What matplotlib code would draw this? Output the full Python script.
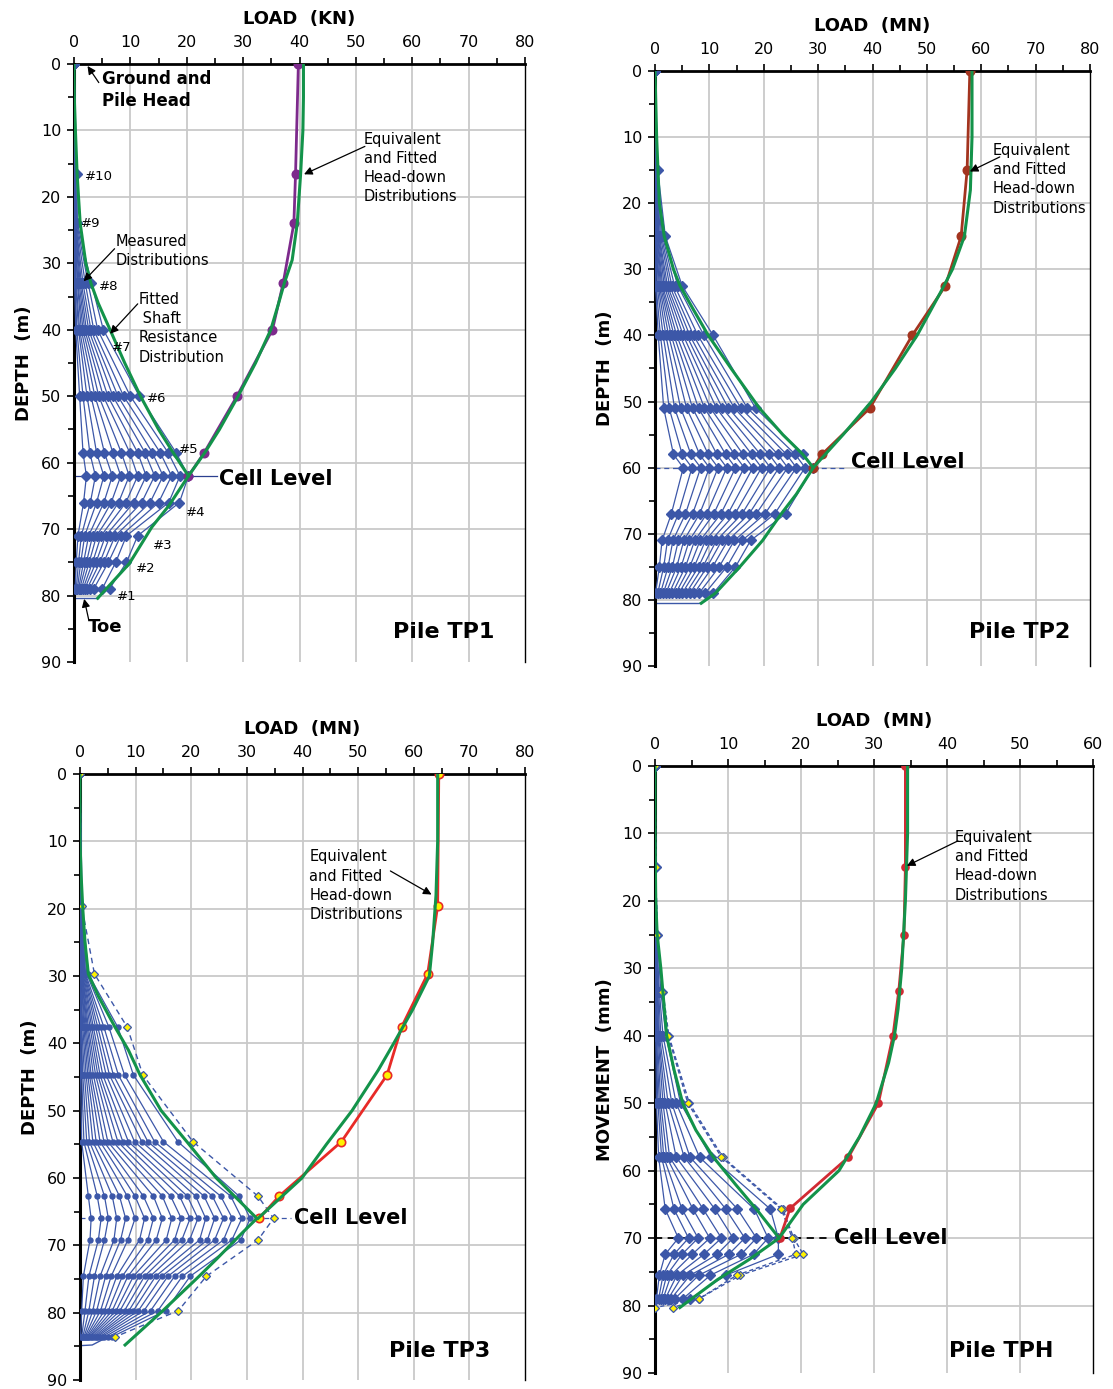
import matplotlib
matplotlib.use("Agg")
import matplotlib.pyplot as plt
from matplotlib.ticker import MultipleLocator

# ---------------- DATA ----------------
# ---- Pile TP1 ----
TP1_DEPTHS = [0, 16.5, 24, 33, 40, 50, 58.5, 62, 66, 71, 75, 79]
TP1_MEASURED = [
    [0, 0, 0, 0, 0, 0, 0, 0, 0, 0, 0, 0, 0],
    [0.0, 0.0, 0.0, 0.0, 0.0, 0.0, 0.1, 0.1, 0.1, 0.2, 0.2, 0.3, 0.5],
    [0.0, 0.0, 0.0, 0.1, 0.1, 0.1, 0.2, 0.2, 0.3, 0.3, 0.4, 0.5, 0.6],
    [0.1, 0.2, 0.3, 0.4, 0.6, 0.7, 0.9, 1.1, 1.3, 1.6, 2.0, 2.5, 3.1],
    [0.3, 0.5, 0.8, 1.0, 1.3, 1.6, 1.9, 2.2, 2.6, 3.0, 3.5, 4.2, 5.2],
    [1.0, 1.6, 2.3, 3.0, 3.7, 4.4, 5.2, 6.0, 6.9, 7.8, 8.8, 10.0, 11.6],
    [1.6, 2.8, 4.0, 5.4, 6.9, 8.4, 9.9, 11.3, 12.6, 13.9, 15.3, 16.7, 18.1],
    [2.2, 3.8, 5.3, 6.8, 8.3, 9.8, 11.3, 12.8, 14.3, 15.8, 17.3, 18.8, 20.3],
    [1.7, 2.9, 4.0, 5.3, 6.6, 7.9, 9.2, 10.6, 12.0, 13.5, 15.0, 16.8, 18.7],
    [0.7, 1.3, 1.9, 2.6, 3.3, 4.0, 4.8, 5.6, 6.4, 7.3, 8.3, 9.3, 11.3],
    [0.4, 0.8, 1.2, 1.7, 2.2, 2.7, 3.3, 3.9, 4.6, 5.3, 6.1, 7.4, 9.3],
    [0.2, 0.4, 0.6, 0.8, 1.0, 1.3, 1.6, 1.9, 2.3, 2.8, 3.5, 5.0, 6.3],
]
TP1_GAUGE_LABELS = ["#10", "#9", "#8", "#7", "#6", "#5", "#4", "#3", "#2", "#1"]
TP1_GAUGE_LABEL_X = [2.0, 1.2, 4.5, 6.8, 13.0, 18.6, 19.8, 14.0, 11.0, 7.6]
TP1_GAUGE_LABEL_D = [17.0, 24.0, 33.5, 42.6, 50.3, 58.0, 67.5, 72.5, 76.0, 80.2]
TP1_FIT_SHAFT_D = [0, 5, 10, 16.5, 20, 24, 30, 33, 36, 40, 45, 50, 55, 58.5, 62, 66.5, 69.7, 75.2, 80.4]
TP1_FIT_SHAFT_L = [0, 0.05, 0.25, 0.55, 0.8, 1.1, 2.1, 3.0, 4.3, 6.4, 9.0, 11.8, 15.0, 17.6, 20.3, 16.8, 13.8, 9.8, 4.2]
TP1_FIT_HEAD_D = [0, 5, 10, 16.5, 24, 29.5, 33, 36, 40, 45, 50, 55, 58.5, 62]
TP1_FIT_HEAD_L = [40.7, 40.7, 40.6, 40.2, 39.6, 38.7, 37.3, 36.3, 34.9, 32.2, 29.1, 25.8, 23.2, 20.3]
TP1_EQ_HEAD_D = [0, 16.5, 24, 33, 40, 50, 58.5, 62]
TP1_EQ_HEAD_L = [39.8, 39.3, 39.0, 37.1, 35.2, 28.9, 23.1, 20.3]
TP1_TOE = [80.3, 4.2]
TP1_CELL = [62.0, 25.4]

# ---- Pile TP2 ----
TP2_DEPTHS = [0, 15, 25, 32.5, 40, 51, 58, 60, 67, 71, 75, 79]
TP2_MEASURED = [
    [0, 0, 0, 0, 0, 0, 0, 0, 0, 0, 0, 0, 0, 0, 0, 0],
    [0.0, 0.0, 0.0, 0.0, 0.0, 0.1, 0.1, 0.1, 0.1, 0.2, 0.2, 0.2, 0.3, 0.3, 0.4, 0.5],
    [0.0, 0.1, 0.1, 0.2, 0.2, 0.3, 0.4, 0.5, 0.6, 0.7, 0.8, 1.0, 1.2, 1.4, 1.6, 1.9],
    [0.1, 0.2, 0.4, 0.6, 0.8, 1.0, 1.2, 1.4, 1.7, 2.0, 2.3, 2.7, 3.1, 3.6, 4.2, 5.0],
    [0.6, 1.0, 1.5, 2.0, 2.5, 3.0, 3.5, 4.0, 4.6, 5.2, 5.8, 6.4, 7.1, 7.9, 9.0, 10.7],
    [1.6, 2.6, 3.6, 4.7, 5.8, 6.9, 8.0, 9.1, 10.2, 11.3, 12.4, 13.5, 14.6, 15.8, 17.0, 18.5],
    [3.4, 5.0, 6.6, 8.2, 9.8, 11.4, 13.0, 14.6, 16.2, 17.8, 19.4, 21.0, 22.6, 24.2, 25.8, 27.3],
    [5.2, 6.8, 8.4, 10.0, 11.6, 13.2, 14.8, 16.4, 18.0, 19.6, 21.2, 22.8, 24.4, 26.0, 27.6, 29.1],
    [3.0, 4.3, 5.6, 6.9, 8.2, 9.5, 10.8, 12.1, 13.4, 14.7, 16.0, 17.3, 18.6, 20.2, 22.0, 24.0],
    [1.3, 2.3, 3.3, 4.3, 5.3, 6.3, 7.3, 8.3, 9.3, 10.3, 11.3, 12.3, 13.4, 14.6, 16.0, 17.6],
    [0.8, 1.6, 2.4, 3.2, 4.0, 4.8, 5.6, 6.4, 7.2, 8.0, 8.8, 9.6, 10.6, 11.8, 13.2, 14.8],
    [0.1, 0.5, 1.0, 1.5, 2.0, 2.6, 3.2, 3.8, 4.4, 5.0, 5.7, 6.4, 7.2, 8.1, 9.2, 10.7],
]
TP2_FIT_SHAFT_D = [0, 10, 20, 25, 30, 32.5, 36, 40, 45, 51, 55, 58, 60, 64, 67, 71, 75, 79, 80.5]
TP2_FIT_SHAFT_L = [0, 0.3, 0.8, 1.7, 3.4, 4.6, 7.0, 9.8, 14.0, 19.2, 23.5, 27.2, 29.1, 26.0, 23.2, 19.8, 15.6, 11.1, 8.5]
TP2_FIT_HEAD_D = [0, 10, 18, 25, 30, 33.5, 40, 45, 50, 55, 60]
TP2_FIT_HEAD_L = [58.3, 58.3, 58.0, 56.9, 54.7, 52.5, 48.2, 44.2, 39.8, 34.6, 29.1]
TP2_EQ_HEAD_D = [0, 15, 25, 32.5, 40, 51, 58, 60]
TP2_EQ_HEAD_L = [57.9, 57.4, 56.3, 53.4, 47.3, 39.5, 30.7, 29.1]
TP2_TOE = [80.5, 8.5]
TP2_CELL = [60.0, 35.3]

# ---- Pile TP3 ----
TP3_DEPTHS = [0, 19.6, 29.7, 37.6, 44.7, 54.6, 62.7, 66, 69.2, 74.6, 79.7, 83.6]
TP3_MEASURED = [
    [0, 0, 0, 0, 0, 0, 0, 0, 0, 0, 0, 0, 0, 0, 0, 0, 0, 0, 0],
    [0.0, 0.0, 0.0, 0.0, 0.0, 0.0, 0.0, 0.05, 0.05, 0.1, 0.1, 0.1, 0.15, 0.15, 0.2, 0.2, 0.25, 0.3, 0.4],
    [0.0, 0.0, 0.1, 0.1, 0.1, 0.2, 0.2, 0.3, 0.3, 0.4, 0.4, 0.5, 0.6, 0.7, 0.8, 0.9, 1.0, 1.2, 1.5],
    [0.0, 0.1, 0.2, 0.3, 0.5, 0.7, 0.9, 1.1, 1.3, 1.5, 1.8, 2.1, 2.4, 2.8, 3.2, 3.7, 4.3, 5.2, 6.8],
    [0.1, 0.3, 0.5, 0.8, 1.1, 1.4, 1.7, 2.0, 2.4, 2.8, 3.2, 3.6, 4.1, 4.7, 5.3, 6.0, 6.9, 8.0, 9.6],
    [0.3, 0.7, 1.2, 1.7, 2.3, 2.9, 3.6, 4.3, 5.0, 5.9, 6.8, 7.7, 8.7, 9.8, 11.1, 12.2, 13.4, 15.0, 17.6],
    [1.5, 3.1, 4.4, 5.8, 7.1, 8.5, 9.9, 11.4, 13.2, 14.8, 16.3, 17.9, 19.3, 20.8, 22.3, 23.8, 25.3, 27.1, 28.6],
    [2.0, 3.8, 5.1, 6.6, 8.2, 9.9, 11.6, 13.2, 14.8, 16.5, 18.2, 19.8, 21.2, 22.6, 24.2, 25.8, 27.4, 29.1, 30.6],
    [1.8, 3.3, 4.4, 6.1, 7.3, 8.6, 10.7, 12.2, 13.7, 15.5, 17.0, 18.3, 19.7, 21.5, 22.9, 24.2, 25.8, 27.3, 28.9],
    [0.6, 1.6, 2.6, 3.6, 4.6, 5.6, 6.6, 7.6, 8.6, 9.6, 10.6, 11.6, 12.6, 13.6, 14.7, 15.8, 17.0, 18.4, 19.8],
    [0.3, 0.9, 1.6, 2.3, 3.0, 3.7, 4.4, 5.1, 5.8, 6.5, 7.2, 8.0, 8.8, 9.6, 10.5, 11.5, 12.7, 14.0, 15.4],
    [0.1, 0.3, 0.5, 0.7, 0.9, 1.1, 1.3, 1.5, 1.7, 1.9, 2.2, 2.5, 2.8, 3.1, 3.5, 3.9, 4.4, 5.0, 5.7],
]
TP3_DASHED = [0, 0.3, 2.6, 8.5, 11.3, 20.3, 32.0, 34.8, 32.0, 22.7, 17.7, 6.3]
TP3_FIT_SHAFT_D = [0, 10, 15, 20, 25, 29.7, 33, 37.6, 41, 44.7, 50, 54.6, 60, 66, 68.2, 72, 74.6, 79.7, 84.8]
TP3_FIT_SHAFT_L = [0, 0.0, 0.2, 0.5, 0.9, 1.5, 3.3, 6.3, 8.7, 10.8, 14.6, 19.2, 24.5, 31.8, 29.1, 24.6, 21.4, 14.9, 8.1]
TP3_FIT_HEAD_D = [0, 10, 18, 25, 30, 35, 40, 44, 50, 55, 60, 66]
TP3_FIT_HEAD_L = [64.3, 64.3, 64.0, 63.4, 62.8, 59.8, 56.4, 53.6, 48.9, 44.3, 39.9, 32.0]
TP3_EQ_HEAD_D = [0, 19.6, 29.7, 37.6, 44.7, 54.6, 62.7, 66]
TP3_EQ_HEAD_L = [64.5, 64.3, 62.5, 57.8, 55.2, 47.0, 35.8, 32.2]
TP3_TOE_D = [84.9, 84.8, 84.2, 83.6]
TP3_TOE_L = [0.0, 2.2, 3.6, 5.0]
TP3_CELL = [66.0, 38.0]

# ---- Pile TPH ----
TPH_DEPTHS = [0, 15, 25, 33.5, 40, 50, 58, 65.7, 70, 72.4, 75.5, 79]
TPH_MEASURED = [
    [0, 0, 0, 0, 0, 0, 0, 0, 0, 0],
    [0.0, 0.0, 0.0, 0.0, 0.0, 0.0, 0.0, 0.05, 0.05, 0.1],
    [0.0, 0.0, 0.0, 0.0, 0.05, 0.1, 0.1, 0.15, 0.2, 0.3],
    [0.0, 0.05, 0.1, 0.15, 0.2, 0.3, 0.4, 0.5, 0.6, 0.8],
    [0.1, 0.15, 0.2, 0.3, 0.4, 0.5, 0.6, 0.8, 1.1, 1.5],
    [0.2, 0.4, 0.6, 0.8, 1.1, 1.4, 1.8, 2.3, 2.9, 3.5],
    [0.5, 0.9, 1.2, 1.6, 2.0, 2.9, 4.0, 4.8, 6.1, 7.7],
    [1.4, 2.6, 3.7, 5.2, 6.6, 8.2, 9.7, 11.3, 13.6, 15.8],
    [3.2, 4.6, 5.9, 7.5, 9.1, 10.7, 12.3, 13.9, 15.5, 16.9],
    [1.4, 2.6, 3.7, 5.1, 6.7, 8.5, 10.1, 11.8, 13.5, 16.9],
    [0.6, 1.1, 1.6, 2.2, 3.0, 3.8, 4.8, 6.0, 7.6, 9.7],
    [0.2, 0.5, 0.8, 1.1, 1.4, 1.8, 2.2, 2.7, 3.8, 4.8],
]
TPH_DASHED_D = [0, 15, 25, 33.5, 40, 50, 58, 65.7, 70, 72.4, 75.5, 79, 80.3]
TPH_DASHED_A = [0, 0.1, 0.3, 1.1, 1.9, 4.7, 9.3, 17.5, 19.0, 20.3, 11.7, 6.0, 2.5]
TPH_DASHED_B = [0, 0.1, 0.3, 1.0, 1.8, 4.5, 9.1, 17.3, 18.8, 19.3, 11.2, 6.0, 0.0]
TPH_FIT_SHAFT_D = [0, 10, 20, 25, 30, 35, 40, 45, 50, 54, 58, 62, 66, 70, 73.1, 76.2, 80.3]
TPH_FIT_SHAFT_L = [0, 0.0, 0.1, 0.3, 0.8, 1.2, 1.6, 2.6, 3.8, 5.6, 8.0, 11.0, 14.1, 17.0, 13.0, 8.5, 3.4]
TPH_FIT_HEAD_D = [0, 10, 20, 30, 36, 40, 44, 50, 55, 60, 65, 70]
TPH_FIT_HEAD_L = [34.6, 34.6, 34.3, 33.8, 33.3, 32.8, 32.0, 30.3, 28.0, 25.2, 20.3, 17.0]
TPH_EQ_HEAD_D = [0, 15, 25, 33.3, 40, 50, 58, 65.6, 70]
TPH_EQ_HEAD_L = [34.3, 34.3, 34.1, 33.4, 32.6, 30.6, 26.5, 18.5, 17.1]
TPH_CELL = [70.0, 24.0]

# ---------------- STYLE ----------------
BLUE = "#3C57A8"
GREEN = "#13934A"
GRID = "#C9C9C9"
FONT = "DejaVu Sans"
NOTE_TEXT = "Equivalent\nand Fitted\nHead-down\nDistributions"

fig = plt.figure(figsize=(11.13, 13.89), dpi=100)


def setup(ax, xmax, xlabel, ylabel):
    ax.set_xlim(0, xmax)
    ax.set_ylim(90, 0)
    ax.xaxis.tick_top()
    ax.xaxis.set_label_position("top")
    ax.xaxis.set_major_locator(MultipleLocator(10))
    ax.xaxis.set_minor_locator(MultipleLocator(5))
    ax.yaxis.set_major_locator(MultipleLocator(10))
    ax.yaxis.set_minor_locator(MultipleLocator(5))
    for v in range(10, xmax, 10):
        ax.axvline(v, color=GRID, lw=1.3, zorder=0)
    for v in range(10, 90, 10):
        ax.axhline(v, color=GRID, lw=1.3, zorder=0)
    ax.spines["bottom"].set_visible(False)
    ax.spines["left"].set_linewidth(2.2)
    ax.spines["top"].set_linewidth(2.0)
    ax.spines["right"].set_linewidth(1.0)
    ax.tick_params(axis="both", which="both", direction="out", width=1.2,
                   labelsize=11.5, colors="black")
    ax.tick_params(axis="both", which="major", length=5)
    ax.tick_params(axis="both", which="minor", length=4)
    ax.tick_params(axis="x", which="major", pad=5)
    ax.tick_params(axis="y", which="major", pad=4)
    ax.tick_params(axis="x", which="both", bottom=False, top=True)
    ax.tick_params(axis="y", which="both", right=False)
    ax.set_xlabel(xlabel, fontsize=13, fontweight="bold", labelpad=8)
    ax.set_ylabel(ylabel, fontsize=13, fontweight="bold", labelpad=6)


def measured(ax, depths, rows, marker, ms):
    n = len(rows[0])
    for k in range(n):
        xs = [row[k] for row in rows]
        ax.plot(xs, depths, color=BLUE, lw=0.9, marker=marker, ms=ms,
                mfc=BLUE, mec=BLUE, zorder=3)


def fits(ax, sd, sl, hd, hl, ed, el, ecol, mfc, ms):
    ax.plot(el, ed, color=ecol, lw=2.0, marker="o", ms=ms, mfc=mfc,
            mec=ecol, mew=1.2, zorder=5)
    ax.plot(sl, sd, color=GREEN, lw=2.2, zorder=6)
    ax.plot(hl, hd, color=GREEN, lw=2.2, zorder=6)


def arrow(ax, xy, xyfrom):
    ax.annotate("", xy=xy, xytext=xyfrom,
                arrowprops=dict(arrowstyle="-|>", color="black", lw=0.9,
                                mutation_scale=12, shrinkA=0, shrinkB=0),
                zorder=10)


def note(ax, text, pos, start, target):
    ax.text(pos[0], pos[1], text, fontsize=10.5, family=FONT, ha="left",
            va="top", linespacing=1.35, zorder=10)
    arrow(ax, target, start)


# ---------------- TP1 ----------------
ax1 = fig.add_axes([74 / 1113, 1 - 662 / 1389, 451 / 1113, 598 / 1389])
setup(ax1, 80, "LOAD  (KN)", "DEPTH  (m)")
ax1.plot([0, TP1_CELL[1]], [TP1_CELL[0], TP1_CELL[0]], color="#2B3F8F", lw=0.9, zorder=2)
ax1.plot([0, TP1_TOE[1]], [TP1_TOE[0], TP1_TOE[0]], color=BLUE, lw=1.0, zorder=2)
measured(ax1, TP1_DEPTHS, TP1_MEASURED, "D", 5.5)
fits(ax1, TP1_FIT_SHAFT_D, TP1_FIT_SHAFT_L, TP1_FIT_HEAD_D, TP1_FIT_HEAD_L,
     TP1_EQ_HEAD_D, TP1_EQ_HEAD_L, "#7D2A8C", "#7D2A8C", 6)
for lab, gx, gd in zip(TP1_GAUGE_LABELS, TP1_GAUGE_LABEL_X, TP1_GAUGE_LABEL_D):
    ax1.text(gx, gd, lab, fontsize=9.5, ha="left", va="center", family=FONT, zorder=10)
ax1.text(5.0, 3.9, "Ground and\nPile Head", fontsize=12, fontweight="bold",
         ha="left", va="center", linespacing=1.3, zorder=10)
arrow(ax1, (2.4, 0.3), (4.4, 2.8))
note(ax1, "Measured\nDistributions", (7.4, 25.6), (7.2, 27.8), (1.7, 32.7))
note(ax1, "Fitted\n Shaft\nResistance\nDistribution", (11.4, 34.3), (11.3, 36.1), (6.4, 40.6))
note(ax1, NOTE_TEXT, (51.4, 10.2), (51.6, 12.4), (40.8, 16.6))
ax1.text(25.8, 62.5, "Cell Level", fontsize=15, fontweight="bold", ha="left", va="center", zorder=10)
ax1.text(2.4, 84.8, "Toe", fontsize=13, fontweight="bold", ha="left", va="center", zorder=10)
arrow(ax1, (1.8, 80.5), (2.6, 83.6))
ax1.text(56.5, 85.5, "Pile TP1", fontsize=16, fontweight="bold", ha="left", va="center", zorder=10)

# ---------------- TP2 ----------------
ax2 = fig.add_axes([655 / 1113, 1 - 666 / 1389, 435 / 1113, 595 / 1389])
setup(ax2, 80, "LOAD  (MN)", "DEPTH  (m)")
ax2.plot([0, TP2_CELL[1]], [TP2_CELL[0], TP2_CELL[0]], color=BLUE, lw=0.9, ls=(0, (4, 3)), zorder=2)
ax2.plot([0, TP2_TOE[1]], [TP2_TOE[0], TP2_TOE[0]], color=BLUE, lw=1.0, zorder=2)
measured(ax2, TP2_DEPTHS, TP2_MEASURED, "D", 5.5)
fits(ax2, TP2_FIT_SHAFT_D, TP2_FIT_SHAFT_L, TP2_FIT_HEAD_D, TP2_FIT_HEAD_L,
     TP2_EQ_HEAD_D, TP2_EQ_HEAD_L, "#A3341F", "#A3341F", 6)
note(ax2, NOTE_TEXT, (62.1, 10.9), (63.4, 13.0), (57.9, 15.2))
ax2.text(36.0, 59.2, "Cell Level", fontsize=15, fontweight="bold", ha="left", va="center", zorder=10)
ax2.text(57.8, 84.9, "Pile TP2", fontsize=16, fontweight="bold", ha="left", va="center", zorder=10)

# ---------------- TP3 ----------------
ax3 = fig.add_axes([80 / 1113, 1 - 1380 / 1389, 445 / 1113, 606 / 1389])
setup(ax3, 80, "LOAD  (MN)", "DEPTH  (m)")
ax3.plot([0, TP3_CELL[1]], [TP3_CELL[0], TP3_CELL[0]], color=BLUE, lw=0.9, ls=(0, (4, 3)), zorder=2)
ax3.plot(TP3_TOE_L, TP3_TOE_D, color=BLUE, lw=1.0, zorder=2)
measured(ax3, TP3_DEPTHS, TP3_MEASURED, "o", 3.6)
ax3.plot(TP3_DASHED, TP3_DEPTHS, color=BLUE, lw=1.0, ls=(0, (4, 3)), marker="D",
         ms=4.5, mfc="#FFF200", mec=BLUE, mew=0.9, zorder=4)
fits(ax3, TP3_FIT_SHAFT_D, TP3_FIT_SHAFT_L, TP3_FIT_HEAD_D, TP3_FIT_HEAD_L,
     TP3_EQ_HEAD_D, TP3_EQ_HEAD_L, "#E82A27", "#FFF200", 6)
note(ax3, NOTE_TEXT, (41.2, 11.2), (55.8, 14.4), (63.2, 17.9))
ax3.text(38.4, 66.0, "Cell Level", fontsize=15, fontweight="bold", ha="left", va="center", zorder=10)
ax3.text(55.5, 85.7, "Pile TP3", fontsize=16, fontweight="bold", ha="left", va="center", zorder=10)

# ---------------- TPH ----------------
ax4 = fig.add_axes([655 / 1113, 1 - 1373 / 1389, 438 / 1113, 607 / 1389])
setup(ax4, 60, "LOAD  (MN)", "MOVEMENT  (mm)")
ax4.plot([0, TPH_CELL[1]], [TPH_CELL[0], TPH_CELL[0]], color="black", lw=1.3, ls=(0, (4, 3)), zorder=2)
measured(ax4, TPH_DEPTHS, TPH_MEASURED, "D", 5)
for dash in (TPH_DASHED_A, TPH_DASHED_B):
    ax4.plot(dash, TPH_DASHED_D, color=BLUE, lw=1.0, ls=(0, (3, 2)), marker="D",
             ms=4.5, mfc="#FFF200", mec=BLUE, mew=0.9, zorder=4)
fits(ax4, TPH_FIT_SHAFT_D, TPH_FIT_SHAFT_L, TPH_FIT_HEAD_D, TPH_FIT_HEAD_L,
     TPH_EQ_HEAD_D, TPH_EQ_HEAD_L, "#D12A33", "#D12A33", 5)
note(ax4, NOTE_TEXT, (41.1, 9.5), (41.5, 11.1), (34.5, 14.8))
ax4.text(24.5, 70.0, "Cell Level", fontsize=15, fontweight="bold", ha="left", va="center", zorder=10)
ax4.text(40.3, 86.7, "Pile TPH", fontsize=16, fontweight="bold", ha="left", va="center", zorder=10)

fig.savefig("out.png", dpi=100)
